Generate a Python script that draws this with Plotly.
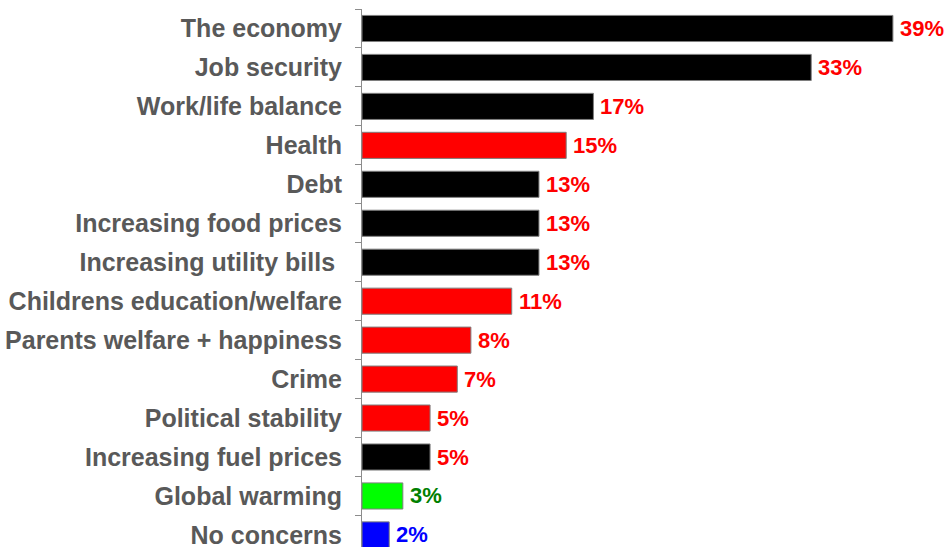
import plotly.graph_objects as go

# Survey: top concerns (share of respondents, %)
categories = [
    "The economy", "Job security", "Work/life balance", "Health", "Debt",
    "Increasing food prices", "Increasing utility bills ",
    "Childrens education/welfare", "Parents welfare + happiness", "Crime",
    "Political stability", "Increasing fuel prices", "Global warming",
    "No concerns",
]
values = [39, 33, 17, 15, 13, 13, 13, 11, 8, 7, 5, 5, 3, 2]
bar_colors = [
    "#000000", "#000000", "#000000", "#ff0000", "#000000", "#000000",
    "#000000", "#ff0000", "#ff0000", "#ff0000", "#ff0000", "#000000",
    "#00ff00", "#0000ff",
]
label_colors = ["#ff0000"] * 12 + ["#008000", "#0000ff"]

FONT = "Liberation Sans, Arial, sans-serif"

fig = go.Figure(
    go.Bar(
        y=categories,
        x=values,
        orientation="h",
        marker=dict(color=bar_colors, line=dict(color="#7f7f7f", width=1)),
        hoverinfo="skip",
    )
)

# value labels just past the end of each bar
for cat, val, col in zip(categories, values, label_colors):
    fig.add_annotation(
        x=val, y=cat, text=f"{val}%", showarrow=False,
        xanchor="left", yanchor="middle", xshift=5,
        font=dict(family=FONT, size=22, color=col, weight="bold"),
    )

fig.update_layout(
    width=946,
    height=549,
    margin=dict(l=362, r=0, t=9, b=0),
    paper_bgcolor="white",
    plot_bgcolor="white",
    bargap=0.33,
    showlegend=False,
    xaxis=dict(range=[0, 42.9], visible=False, showgrid=False, zeroline=False),
    yaxis=dict(
        categoryorder="array",
        categoryarray=categories,
        range=[13.31, -0.5],
        showline=True,
        linecolor="#8c8c8c",
        linewidth=1,
        ticks="outside",
        tickson="boundaries",
        ticklen=6,
        tickcolor="#8c8c8c",
        ticklabelstandoff=14,
        showgrid=False,
        tickfont=dict(family=FONT, size=25, color="#595959", weight="bold"),
    ),
)

fig.write_html("out.html")
